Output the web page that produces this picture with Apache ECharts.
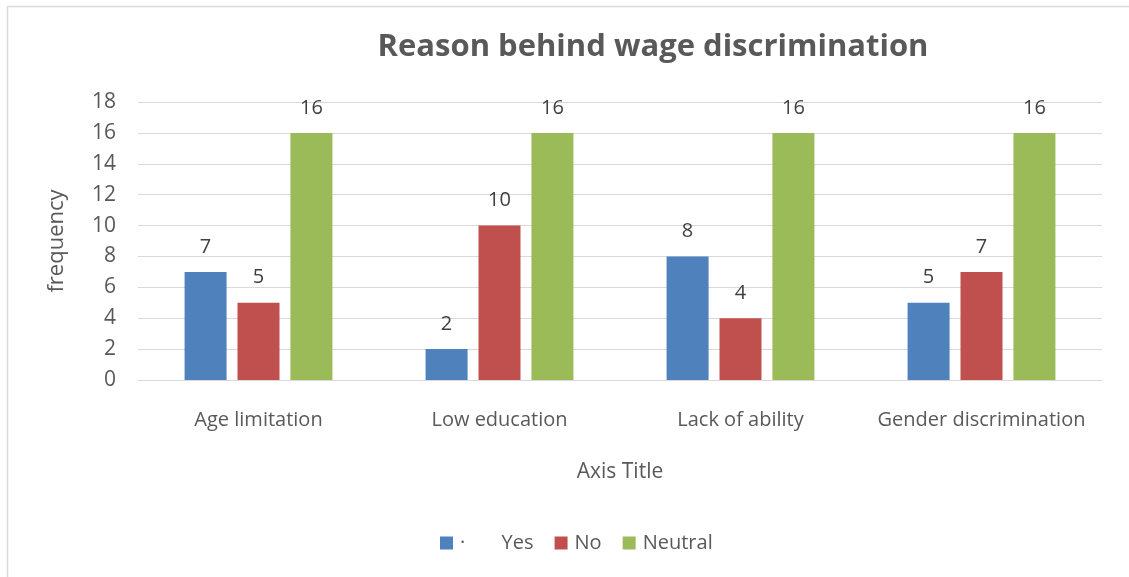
<!DOCTYPE html>
<html>
<head>
<meta charset="utf-8">
<title>Reason behind wage discrimination</title>
<script src="https://cdn.jsdelivr.net/npm/echarts@6/dist/echarts.min.js"></script>
<style>
  html, body { margin: 0; padding: 0; background: #ffffff; }
  #chart { width: 1129px; height: 577px; }
</style>
</head>
<body>
<div id="chart"></div>
<script>
// Survey answers per reason
const categories = ['Age limitation', 'Low education', 'Lack of ability', 'Gender discrimination'];
const yesValues = [7, 2, 8, 5];
const noValues = [5, 10, 4, 7];
const neutralValues = [16, 16, 16, 16];
const seriesNames = ['·\u00a0\u00a0\u00a0\u00a0\u00a0\u00a0\u00a0Yes', 'No', 'Neutral'];
const yTicks = { min: 0, max: 18, interval: 2 };

const FONT = '"Open Sans", "Liberation Sans", sans-serif';
const GREY = '#595959';

const chart = echarts.init(document.getElementById('chart'), null, { renderer: 'canvas' });

function barSeries(name, data, color) {
  return {
    name: name,
    type: 'bar',
    data: data,
    barWidth: 42,
    barGap: '26%',
    itemStyle: { color: color },
    label: {
      show: true,
      position: 'top',
      distance: 15,
      color: '#404040',
      fontFamily: FONT,
      fontSize: 20
    }
  };
}

chart.setOption({
  animation: false,
  backgroundColor: '#ffffff',
  graphic: [{
    type: 'rect',
    left: 5, top: 4,
    shape: { width: 1200, height: 650 },
    style: { fill: 'none', stroke: '#d9d9d9', lineWidth: 1.5 },
    silent: true,
    z: -1
  }],
  title: {
    text: 'Reason behind wage discrimination',
    left: 648,
    top: 27,
    textAlign: 'center',
    textStyle: { fontFamily: FONT, fontWeight: 'bold', fontSize: 31, color: GREY }
  },
  legend: {
    left: 435,
    top: 528,
    itemWidth: 13,
    itemHeight: 13,
    itemGap: 21,
    icon: 'rect',
    textStyle: { fontFamily: FONT, fontSize: 20, color: GREY, padding: [0, 0, 0, 2] },
    data: seriesNames
  },
  grid: { left: 138, right: 27, top: 102, bottom: 197, containLabel: false },
  xAxis: {
    type: 'category',
    data: categories,
    name: 'Axis Title',
    nameLocation: 'middle',
    nameGap: 82,
    nameTextStyle: { fontFamily: FONT, fontSize: 21, color: GREY },
    axisLine: { lineStyle: { color: '#d9d9d9', width: 1 } },
    axisTick: { show: false },
    axisLabel: { interval: 0, fontFamily: FONT, fontSize: 20, color: GREY, margin: 30 }
  },
  yAxis: {
    type: 'value',
    min: yTicks.min,
    max: yTicks.max,
    interval: yTicks.interval,
    name: 'frequency',
    nameLocation: 'middle',
    nameGap: 70,
    nameTextStyle: { fontFamily: FONT, fontSize: 22, color: GREY },
    axisLine: { show: false },
    axisTick: { show: false },
    axisLabel: { fontFamily: FONT, fontSize: 21, color: GREY, margin: 22 },
    splitLine: { lineStyle: { color: '#d9d9d9', width: 1 } }
  },
  series: [
    barSeries(seriesNames[0], yesValues, '#4f81bd'),
    barSeries(seriesNames[1], noValues, '#c0504d'),
    barSeries(seriesNames[2], neutralValues, '#9bbb59')
  ]
});
</script>
</body>
</html>
